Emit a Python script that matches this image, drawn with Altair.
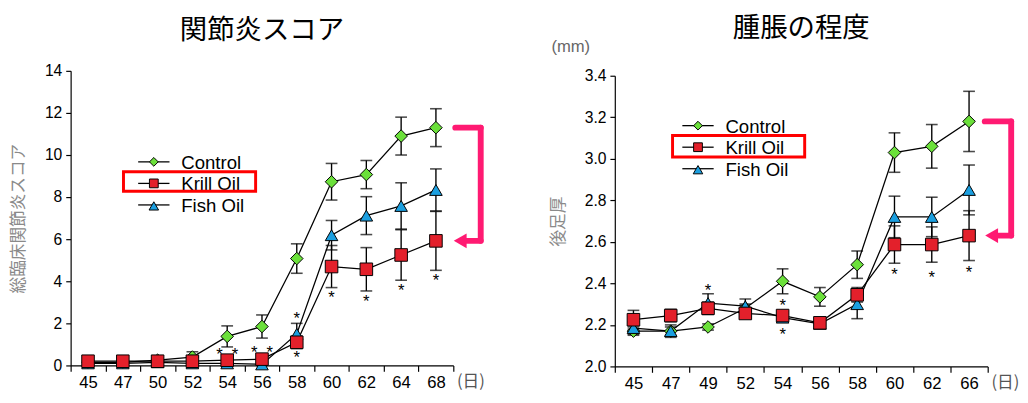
import altair as alt
import pandas as pd

series = ["Control", "Krill Oil", "Fish Oil"]
fills = ["#6BE03A", "#E3202B", "#1B9FE0"]
shapes = ["diamond", "square", "triangle-up"]

# ---- left panel: 関節炎スコア ----
days_a = ["45", "47", "50", "52", "54", "56", "58", "60", "62", "64", "68"]
ctrl_a = [0.15, 0.15, 0.25, 0.4, 1.38, 1.85, 5.08, 8.73, 9.07, 10.9, 11.3]
ctrl_a_err = [0.05, 0.05, 0.1, 0.25, 0.5, 0.55, 0.7, 0.87, 0.67, 0.9, 0.9]
krill_a = [0.2, 0.2, 0.2, 0.2, 0.25, 0.3, 1.1, 4.7, 4.57, 5.25, 5.92]
krill_a_err = [0.05, 0.05, 0.05, 0.05, 0.05, 0.05, 0.3, 1.0, 1.03, 1.2, 1.4]
fish_a = [0.1, 0.1, 0.15, 0.1, 0.1, 0.05, 1.5, 6.19, 7.12, 7.58, 8.34]
fish_a_err = [0.05, 0.05, 0.05, 0.05, 0.05, 0.05, 0.5, 0.7, 0.9, 1.1, 1.0]
star_a_day = ["58", "58", "60", "62", "64", "68"]
star_a_y = [2.4, 0.55, 3.4, 3.2, 3.7, 4.2]
star_pair_a_day = ["54", "56"]
star_pair_a_y = [0.7, 0.75]

# ---- right panel: 腫脹の程度 ----
days_b = ["45", "47", "49", "52", "54", "56", "58", "60", "62", "66"]
ctrl_b = [2.17, 2.17, 2.19, 2.28, 2.41, 2.335, 2.49, 3.03, 3.06, 3.18]
ctrl_b_err = [0.02, 0.02, 0.015, 0.02, 0.06, 0.045, 0.066, 0.095, 0.105, 0.145]
krill_b = [2.225, 2.245, 2.28, 2.255, 2.245, 2.21, 2.345, 2.587, 2.587, 2.63]
krill_b_err = [0.045, 0.03, 0.03, 0.015, 0.02, 0.015, 0.035, 0.09, 0.085, 0.12]
fish_b = [2.185, 2.17, 2.305, 2.29, 2.235, 2.205, 2.30, 2.72, 2.72, 2.85]
fish_b_err = [0.03, 0.03, 0.045, 0.035, 0.02, 0.015, 0.07, 0.1, 0.095, 0.12]
star_b_day = ["49", "54", "54", "60", "62", "66"]
star_b_y = [2.38, 2.31, 2.17, 2.46, 2.445, 2.47]

PINK = "#FF1A72"
LATIN = "Liberation Sans"
CJK = "Noto Sans CJK JP"


def long_df(days, vals, errs):
    rows = []
    for s, f, sh, v, e in zip(series, fills, shapes, vals, errs):
        for d, y, err in zip(days, v, e):
            rows.append(dict(day=d, series=s, fill=f, shape=sh, value=y,
                             lo=y - err, hi=y + err))
    return pd.DataFrame(rows)


def panel(days, vals, errs, star_day, star_y, pair_day, pair_y,
          ydom, yvals, yfmt, ytitle, title, W, H, yrange, title_offset,
          leg_x, leg_y, box, br, mm_y):
    df = long_df(days, vals, errs)
    X = alt.X("day:N", sort=days, bandPosition=0.5,
              scale=alt.Scale(type="band", domain=days, paddingInner=0, paddingOuter=0),
              axis=alt.Axis(title=None, labelAngle=0, tickBand="extent", labelFontSize=17,
                            labelPadding=4, tickSize=6))
    yscale = dict(domain=ydom, nice=False, zero=False)
    if yrange:
        yscale["range"] = yrange
    Y = alt.Y("value:Q", scale=alt.Scale(**yscale),
              axis=alt.Axis(values=yvals, format=yfmt, title=ytitle, titleFont=CJK,
                            titleFontSize=17, titleFontWeight="normal", titleColor="#8A8A8A",
                            titlePadding=17, labelFontSize=16, labelPadding=4, tickSize=5))
    base = alt.Chart(df)
    lines = base.mark_line(color="black", strokeWidth=1.3).encode(
        x=X, y=Y, detail="series:N")
    bars = base.mark_rule(color="black", strokeWidth=1.4).encode(
        x=X, y=alt.Y("lo:Q"), y2="hi:Q")
    cap_lo = base.mark_tick(color="black", size=12, thickness=1.6).encode(x=X, y=alt.Y("lo:Q"))
    cap_hi = base.mark_tick(color="black", size=12, thickness=1.6).encode(x=X, y=alt.Y("hi:Q"))
    pts = base.mark_point(filled=True, size=165, stroke="black", strokeWidth=1, opacity=1).encode(
        x=X, y=Y,
        fill=alt.Fill("fill:N", scale=None),
        shape=alt.Shape("shape:N", scale=None),
        order=alt.Order("series:N", sort="ascending"),
    )
    sdf = pd.DataFrame({"day": star_day, "value": star_y})
    stars = alt.Chart(sdf).mark_text(text="*", font=LATIN, fontSize=17, baseline="middle", dy=4).encode(
        x=X, y=Y)
    layers = [lines, bars, cap_lo, cap_hi, pts, stars]
    if pair_day:
        pdf = pd.DataFrame({"day": pair_day, "value": pair_y})
        for dx in (-8, 8):
            layers.append(alt.Chart(pdf).mark_text(text="*", font=LATIN, fontSize=17,
                                                    baseline="middle", dy=4, dx=dx).encode(x=X, y=Y))
    # legend (drawn as annotation)
    for i, (s, f, sh) in enumerate(zip(series, fills, shapes)):
        ldf = pd.DataFrame({"series": [s]})
        ly = leg_y + i * 22
        lc = alt.Chart(ldf)
        layers.append(lc.mark_rule(color="black", strokeWidth=1.3).encode(
            x=alt.value(leg_x), x2=alt.value(leg_x + 32), y=alt.value(ly)))
        layers.append(lc.mark_point(shape=sh, filled=True, fill=f, stroke="black", strokeWidth=1,
                                    size=95 if sh == "triangle-up" else 80, opacity=1).encode(
            x=alt.value(leg_x + 16), y=alt.value(ly + (1 if sh == "triangle-up" else 0))))
        layers.append(lc.mark_text(font=LATIN, fontSize=19, color="black", align="left",
                                   baseline="middle").encode(
            text="series:N", x=alt.value(leg_x + 44), y=alt.value(ly + 1)))
    one = pd.DataFrame({"k": [0]})
    layers.append(alt.Chart(one).mark_rect(fill=None, stroke="#FF0000", strokeWidth=3).encode(
        x=alt.value(box[0]), x2=alt.value(box[1]), y=alt.value(box[2]), y2=alt.value(box[3])))
    # pink bracket from last Control value to last Krill Oil value
    bdf = pd.DataFrame({"top": [vals[0][-1]], "bot": [vals[1][-1]]})
    bx0, bx1, bxb, bxa = br
    bb = alt.Chart(bdf)
    layers.append(bb.mark_rule(color=PINK, strokeWidth=6, strokeCap="round").encode(
        x=alt.value(bx0), x2=alt.value(bx1), y=alt.Y("top:Q")))
    layers.append(bb.mark_rule(color=PINK, strokeWidth=6, strokeCap="round").encode(
        x=alt.value(bx1), y=alt.Y("top:Q"), y2="bot:Q"))
    layers.append(bb.mark_rule(color=PINK, strokeWidth=6, strokeCap="round").encode(
        x=alt.value(bxb), x2=alt.value(bx1), y=alt.Y("bot:Q")))
    layers.append(bb.mark_point(shape="triangle-left", filled=True, color=PINK, size=230, opacity=1).encode(
        x=alt.value(bxa), y=alt.Y("bot:Q")))
    # unit labels
    layers.append(alt.Chart(one).mark_text(text="(日)", font=CJK, fontSize=17, color="#555555").encode(
        x=alt.value(W + 18), y=alt.value(H + 17)))
    if mm_y is not None:
        layers.append(alt.Chart(one).mark_text(text="(mm)", font=LATIN, fontSize=17, color="#666666").encode(
            x=alt.value(-45), y=alt.value(mm_y)))
    return alt.layer(*layers).properties(
        width=W, height=H,
        title=alt.TitleParams(title, font=CJK, fontSize=28, fontWeight="normal",
                              anchor="middle", offset=title_offset, color="black"),
    )


left = panel(days_a, [ctrl_a, krill_a, fish_a], [ctrl_a_err, krill_a_err, fish_a_err],
             star_a_day, star_a_y, star_pair_a_day, star_pair_a_y,
             [0, 14], list(range(0, 15, 2)), "d", "総臨床関節炎スコア", "関節炎スコア",
             391, 301, None, 19, 69, 93, (54, 189, 103, 123), (393, 419, 404, 398), None)
right = panel(days_b, [ctrl_b, krill_b, fish_b], [ctrl_b_err, krill_b_err, fish_b_err],
              star_b_day, star_b_y, [], [],
              [2.0, 3.4], [2.0, 2.2, 2.4, 2.6, 2.8, 3.0, 3.2, 3.4], ".1f", "後足厚", "腫脹の程度",
              381, 302, [302, 5], -4, 69, 56, (59, 194, 66, 88), (378, 405, 392, 385), -24)

chart = alt.hconcat(left, right, spacing=65).resolve_scale(
    x="independent", y="independent"
).properties(
    padding={"left": 2, "top": 3, "right": 0, "bottom": 0}
).configure_view(stroke=None).configure_axis(
    domainColor="black", tickColor="black", labelColor="black", labelFont=LATIN,
    grid=False, domainWidth=1.2, tickWidth=1.2
)

chart.save("out.html", embed_options={"renderer": "svg", "actions": False})
